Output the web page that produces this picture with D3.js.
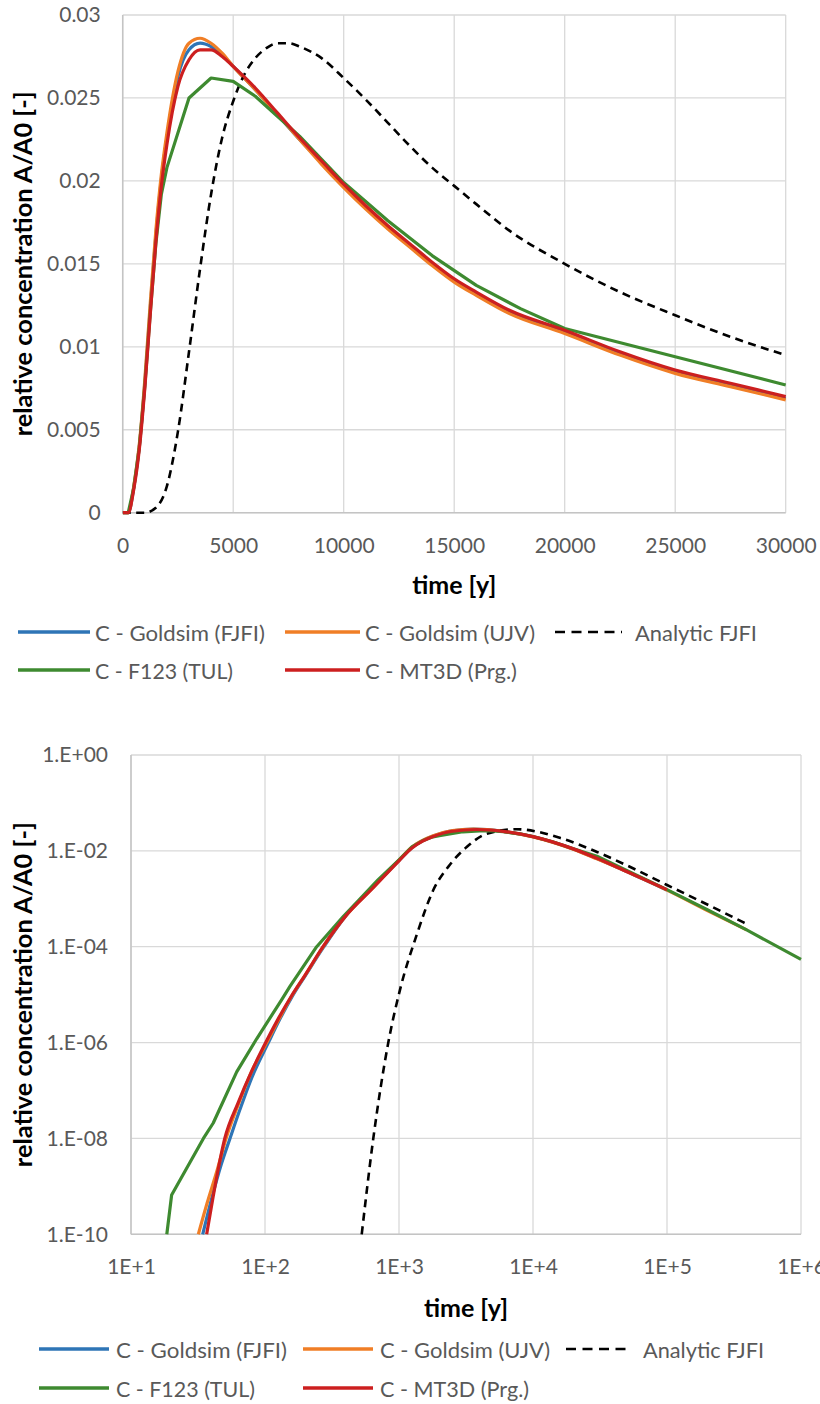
<!DOCTYPE html>
<html><head><meta charset="utf-8">
<script src="https://cdn.jsdelivr.net/npm/d3@7"></script>
<style>
body{margin:0;background:#fff}
svg{display:block;font-family:Lato,'Open Sans',sans-serif}
</style>
</head><body>
<svg id="c" width="820" height="1404"></svg>
<script>
// ---------- series labels ----------
const seriesNames = ["C - Goldsim (FJFI)", "C - Goldsim (UJV)", "Analytic FJFI", "C - F123 (TUL)", "C - MT3D (Prg.)"];

// ---------- linear chart (time 0..30000 y) ----------
const linTicksX = ["0","5000","10000","15000","20000","25000","30000"];
const linTicksY = ["0","0.005","0.01","0.015","0.02","0.025","0.03"];
const linTime = [0,250,500,750,1000,1250,1500,1750,2000,2500,3000,3500,4000,4500,5000,6000,7000,8000,9000,10000,11000,12000,13000,14000,15000,16000,17500,20000,22500,25000,27500,30000];
const linGoldsimFJFI = [0,0,0.0015,0.0040,0.0078,0.0124,0.0167,0.0201,0.0226,0.0263,0.0279,0.0283,0.0281,0.0276,0.0269,0.0255,0.0240,0.0225,0.0211,0.0197,0.0184,0.0172,0.0161,0.0150,0.0140,0.0132,0.0121,0.0109,0.0096,0.0085,0.0077,0.0069];
const linGoldsimUJV = [0,0,0.0016,0.0041,0.0080,0.0127,0.0170,0.0204,0.0229,0.0266,0.0283,0.0286,0.0283,0.0277,0.0269,0.0255,0.0240,0.0225,0.0210,0.0196,0.0183,0.0171,0.0160,0.0149,0.0139,0.0131,0.0120,0.0108,0.0095,0.0084,0.0076,0.0068];
const linMT3D = [0,0,0.0014,0.0038,0.0075,0.0120,0.0163,0.0197,0.0222,0.0257,0.0273,0.0279,0.0279,0.0275,0.0269,0.0256,0.0241,0.0226,0.0212,0.0198,0.0185,0.0173,0.0162,0.0151,0.0141,0.0133,0.0122,0.0110,0.0097,0.0086,0.0078,0.0070];
const linTimeF123 = [0,250,500,750,1000,1250,1500,1750,2000,3000,4000,5000,6000,7000,8000,9000,10000,12000,14000,16000,18000,20000,25000,30000];
const linF123 = [0,0,0.0015,0.0039,0.0076,0.0121,0.0162,0.0192,0.0208,0.0250,0.0262,0.0260,0.0251,0.0239,0.0227,0.0213,0.0199,0.0176,0.0155,0.0137,0.0123,0.0111,0.0094,0.0077];
const linTimeAnalytic = [0,500,1000,1500,2000,2500,3000,3500,4000,4500,5000,5500,6000,6500,7000,7500,8000,9000,10000,11000,12000,13000,14000,15000,16000,17500,20000,22500,25000,27500,30000];
const linAnalytic = [0,0,0,0.0003,0.0016,0.0049,0.0097,0.0147,0.0192,0.0226,0.0248,0.0264,0.0274,0.0280,0.0283,0.0283,0.0281,0.0274,0.0262,0.0249,0.0235,0.0221,0.0208,0.0197,0.0186,0.0170,0.0150,0.0133,0.0119,0.0106,0.0095];

// ---------- log chart (time 1E+1..1E+6 y) ----------
const logTicksX = ["1E+1","1E+2","1E+3","1E+4","1E+5","1E+6"];
const logTicksY = ["1.E-10","1.E-08","1.E-06","1.E-04","1.E-02","1.E+00"];
const logTimeGoldsimFJFI = [34.3,40,47,54.8,65,80,106,130,160,200,275,400,630,1000,1250,1500,1800,2500,3600,6000,10000,20000,30000,50000,100000];
const logGoldsimFJFI = [1e-10,5.6e-10,2.8e-9,1e-8,4e-8,1.9e-7,1e-6,3.2e-6,9.3e-6,2.5e-5,1e-4,4.4e-4,1.66e-3,6.3e-3,0.0118,0.0163,0.0204,0.0263,0.0283,0.0255,0.0197,0.0109,0.0069,0.0037,0.00152];
const logTimeGoldsimUJV = [31.8,37,44,51.2,63,80,104,128,159,200,272,398,631,1000,1250,1500,1800,2500,3600,6000,10000,20000,30000,50000,100000,200000,393000];
const logGoldsimUJV = [1e-10,4.5e-10,2.2e-9,1e-8,5e-8,2.6e-7,1.05e-6,3.2e-6,9.6e-6,2.6e-5,1e-4,4.3e-4,1.65e-3,6.4e-3,0.0120,0.0165,0.0207,0.0266,0.0286,0.0255,0.0196,0.0108,0.0068,0.0037,0.00152,0.00057,0.000224];
const logTimeAnalytic = [527,643,832,1017,1355,1803,2404,3200,4510,7550,15850,30000,50000,100000,200000,382000];
const logAnalytic = [1e-10,1e-8,1e-6,1.26e-5,1.76e-4,1.52e-3,5.2e-3,0.0120,0.0228,0.0283,0.0187,0.0095,0.0050,0.00194,0.00076,0.00031];
const logTimeF123 = [18.5,20.1,34.7,41.1,61.5,86.7,133,154,243,385,500,700,1000,1250,1500,1750,2000,3000,4000,5000,6000,8000,10000,14000,20000,30000,50000,100000,200000,393000,1000000];
const logF123 = [1e-10,6.6e-10,1e-8,2.1e-8,2.45e-7,1.2e-6,7.8e-6,1.5e-5,1e-4,4.3e-4,9.3e-4,2.5e-3,6.5e-3,0.0121,0.0162,0.0192,0.0208,0.0250,0.0262,0.0260,0.0251,0.0227,0.0199,0.0155,0.0111,0.0077,0.0039,0.00155,0.00059,0.000224,5.46e-5];
const logTimeMT3D = [36.7,41.1,50.1,63.1,79.4,103,126,158,200,271,398,631,1000,1250,1500,1800,2500,3800,6000,10000,20000,30000,50000,100000];
const logMT3D = [1e-10,6.3e-10,1e-8,5.6e-8,2.5e-7,1.1e-6,3.2e-6,9.5e-6,2.6e-5,1e-4,4.3e-4,1.62e-3,6.2e-3,0.0115,0.0160,0.0200,0.0257,0.0279,0.0256,0.0198,0.0110,0.0070,0.0037,0.00155];

// ---------- styling ----------
const colors = ["#2e75b6","#f07e26","#000000","#3e8a30","#cc1f1f"];
const dashed = [false,false,true,false,false];
const gridColor = "#d9d9d9";
const tickColor = "#595959";
const FS = 21;
const TFS = 25;

const svg = d3.select("#c");

function drawChart(cfg){
  const g = svg.append("g");
  const {x, y, left, right, top, bottom} = cfg;
  const w = right-left, h = bottom-top;
  const gg = g.append("g");
  gg.selectAll("line.v").data(cfg.xTickVals).join("line")
    .attr("x1", d=>x(d)).attr("x2", d=>x(d)).attr("y1", top).attr("y2", bottom)
    .attr("stroke", gridColor).attr("stroke-width",1.3);
  gg.selectAll("line.h").data(cfg.yTickVals).join("line")
    .attr("x1", left).attr("x2", right).attr("y1", d=>y(d)).attr("y2", d=>y(d))
    .attr("stroke", gridColor).attr("stroke-width",1.3);
  g.append("line").attr("x1",left).attr("x2",right).attr("y1",bottom).attr("y2",bottom).attr("stroke","#c4c4c4").attr("stroke-width",1.5);
  g.append("line").attr("x1",left).attr("x2",left).attr("y1",top).attr("y2",bottom).attr("stroke","#c4c4c4").attr("stroke-width",1.5);

  const ax = g.append("g").attr("transform",`translate(0,${bottom})`)
    .call(d3.axisBottom(x).tickValues(cfg.xTickVals).tickFormat((d,i)=>cfg.xLabels[i]).tickSize(0).tickPadding(cfg.xPad));
  ax.select(".domain").remove();
  ax.selectAll("text").attr("fill",tickColor).attr("font-size",FS).attr("font-family","Lato,'Open Sans',sans-serif");
  const ay = g.append("g").attr("transform",`translate(${left},0)`)
    .call(d3.axisLeft(y).tickValues(cfg.yTickVals).tickFormat((d,i)=>cfg.yLabels[i]).tickSize(0).tickPadding(cfg.yPad));
  ay.select(".domain").remove();
  ay.selectAll("text").attr("fill",tickColor).attr("font-size",FS).attr("font-family","Lato,'Open Sans',sans-serif");

  g.append("text").attr("x",(left+right)/2).attr("y",cfg.xTitleY).attr("text-anchor","middle")
    .attr("dominant-baseline","central").attr("font-weight","bold").attr("font-size",TFS).attr("fill","#000").text("time [y]");
  g.append("text").attr("transform",`translate(${cfg.yTitleX},${(top+bottom)/2}) rotate(-90)`).attr("text-anchor","middle")
    .attr("dominant-baseline","central").attr("font-weight","bold").attr("font-size",TFS).attr("fill","#000")
    .attr("textLength",cfg.yTitleLen).attr("lengthAdjust","spacingAndGlyphs")
    .text("relative concentration A/A0 [-]");

  const cid = "clip"+cfg.id;
  svg.append("defs").append("clipPath").attr("id",cid).append("rect")
    .attr("x",left).attr("y",top-4).attr("width",w+4).attr("height",h+8);
  const lg = g.append("g").attr("clip-path",`url(#${cid})`);
  cfg.series.forEach((s,i)=>{
    const pts = s.t.map((t,k)=>[t,s.v[k]]);
    const line = d3.line().x(d=>x(d[0])).y(d=>y(d[1])).curve(s.curve || d3.curveMonotoneX);
    lg.append("path").attr("d",line(pts)).attr("fill","none")
      .attr("stroke",colors[i]).attr("stroke-width",dashed[i]?2.6:3.2)
      .attr("stroke-dasharray",dashed[i]?"8,5.5":null)
      .attr("stroke-linejoin","round");
  });

  const leg = g.append("g");
  cfg.legend.forEach((L,i)=>{
    leg.append("line").attr("x1",L.x1).attr("x2",L.x2).attr("y1",L.y).attr("y2",L.y)
      .attr("stroke",colors[i]).attr("stroke-width",dashed[i]?2.6:3.4)
      .attr("stroke-dasharray",dashed[i]?"10,6.5":null);
    leg.append("text").attr("x",L.tx).attr("y",L.y).attr("dominant-baseline","central")
      .attr("font-size",22).attr("fill",tickColor)
      .attr("textLength",L.tw).attr("lengthAdjust","spacingAndGlyphs")
      .text(seriesNames[i]);
  });
}

// top (linear) chart
{
  const left=122.7,right=785.7,top=15,bottom=512.7;
  const xv = linTicksX.map(Number), yv = linTicksY.map(Number);
  const x = d3.scaleLinear().domain([0,30000]).range([left,right]);
  const y = d3.scaleLinear().domain([0,0.03]).range([bottom,top]);
  drawChart({id:"a",x,y,left,right,top,bottom,xTickVals:xv,yTickVals:yv,xLabels:linTicksX,yLabels:linTicksY,
    xPad:25,yPad:22,xTitleY:584,yTitleX:22,yTitleLen:345,
    series:[
      {t:linTime,v:linGoldsimFJFI},
      {t:linTime,v:linGoldsimUJV},
      {t:linTimeAnalytic,v:linAnalytic},
      {t:linTimeF123,v:linF123,curve:d3.curveLinear},
      {t:linTime,v:linMT3D}
    ],
    legend:[
      {x1:18,x2:90,tx:95,tw:170,y:632},
      {x1:285,x2:360,tx:365,tw:170,y:632},
      {x1:555,x2:622,tx:635,tw:122,y:632},
      {x1:18,x2:90,tx:95,tw:138,y:670},
      {x1:285,x2:360,tx:365,tw:152,y:670}
    ]});
}

// bottom (log) chart
{
  const left=131,right=801,top=755,bottom=1234.3;
  const xv = logTicksX.map(Number), yv = logTicksY.map(Number);
  const x = d3.scaleLog().domain([10,1e6]).range([left,right]);
  const y = d3.scaleLog().domain([1e-10,1]).range([bottom,top]);
  drawChart({id:"b",x,y,left,right,top,bottom,xTickVals:xv,yTickVals:yv,xLabels:logTicksX,yLabels:logTicksY,
    xPad:25,yPad:23,xTitleY:1307,yTitleX:22,yTitleLen:345,
    series:[
      {t:logTimeGoldsimFJFI,v:logGoldsimFJFI},
      {t:logTimeGoldsimUJV,v:logGoldsimUJV},
      {t:logTimeAnalytic,v:logAnalytic},
      {t:logTimeF123,v:logF123,curve:d3.curveLinear},
      {t:logTimeMT3D,v:logMT3D}
    ],
    legend:[
      {x1:39,x2:109,tx:116,tw:171,y:1349},
      {x1:303,x2:373,tx:380,tw:170,y:1349},
      {x1:566,x2:631,tx:643,tw:121,y:1349},
      {x1:39,x2:109,tx:116,tw:139,y:1388},
      {x1:303,x2:373,tx:380,tw:149,y:1388}
    ]});
}
</script>
</body></html>
